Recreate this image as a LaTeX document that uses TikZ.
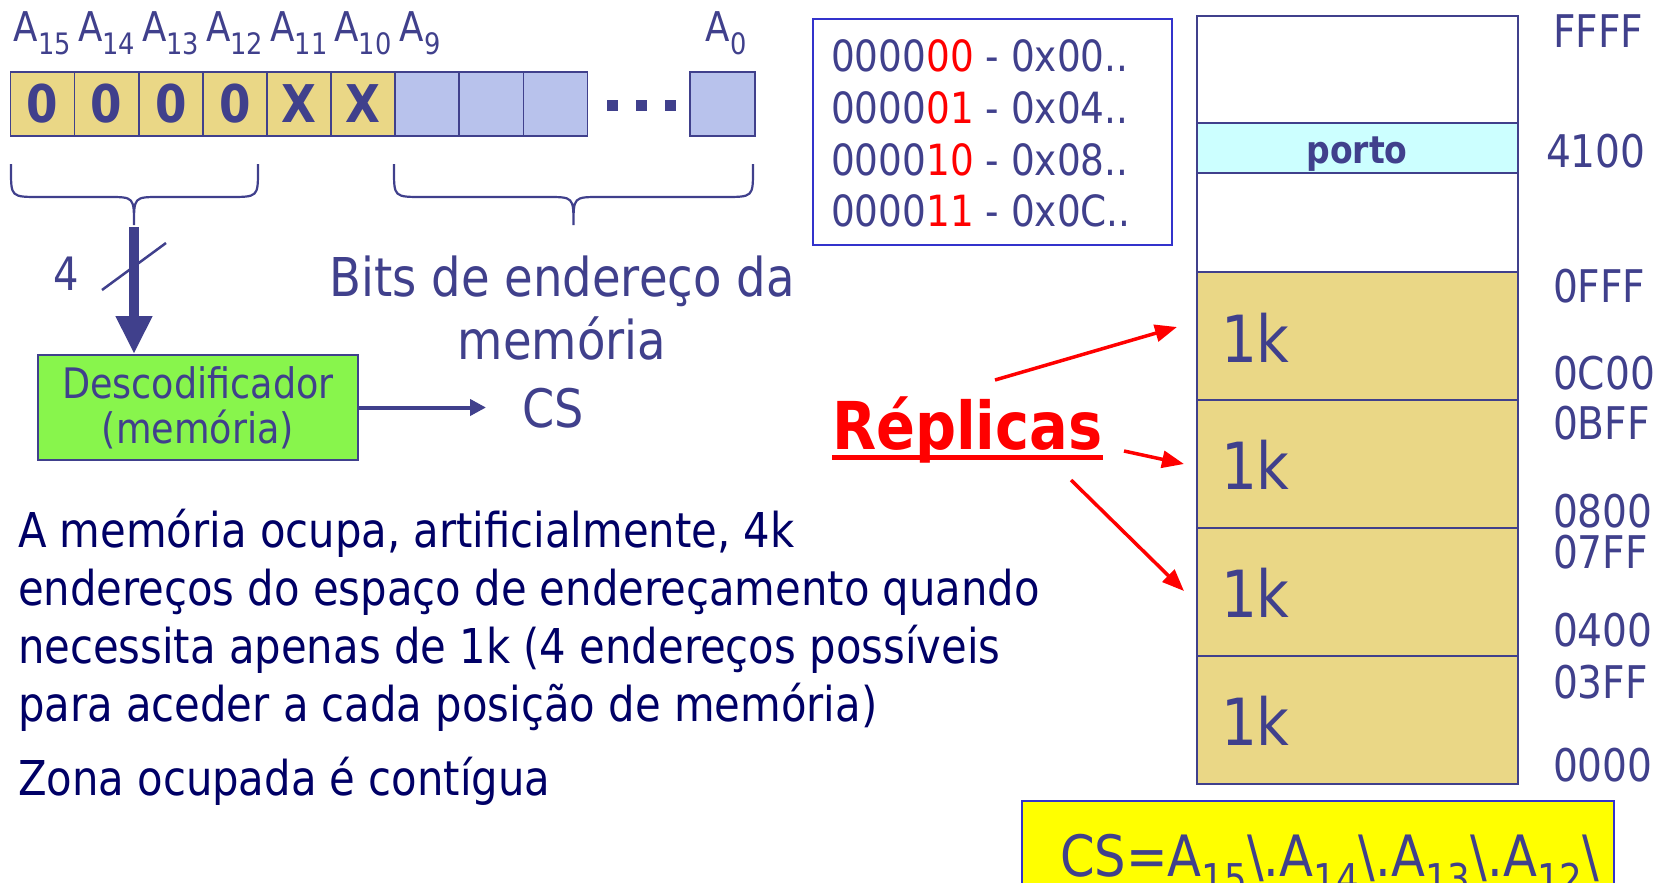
\documentclass[tikz,border=0pt]{standalone}
\usepackage{graphicx}
\usepackage{fontspec}
\setmainfont{DejaVu Sans}[FakeStretch=0.87]
\usetikzlibrary{arrows.meta}
\definecolor{navy}{RGB}{64,64,140}
\definecolor{dnavy}{RGB}{0,0,102}
\definecolor{gold}{RGB}{234,215,134}
\definecolor{lblue}{RGB}{184,194,236}
\definecolor{lcyan}{RGB}{204,255,255}
\definecolor{lime}{RGB}{136,245,76}
\definecolor{boxblue}{RGB}{51,51,204}
\definecolor{rred}{RGB}{255,0,0}
\definecolor{yel}{RGB}{255,255,0}
\newcommand\fsz[1]{\fontsize{#1}{#1}\selectfont}
\newcommand\sbs[1]{\raisebox{-0.3em}{\scalebox{0.72}{#1}}}
\tikzset{
  txt/.style={text=navy, inner sep=0pt, outer sep=0pt},
  bitbox/.style={draw=navy, line width=1.6pt, minimum width=64.1pt, minimum height=64pt, inner sep=0pt, outer sep=0pt, text=navy, font=\fsz{52}\bfseries},
  memcell/.style={draw=navy, line width=1.6pt, minimum width=321pt, anchor=north west, inner sep=0pt, outer sep=0pt},
  alabel/.style={txt, anchor=base, font=\fsz{41}},
  addrlabel/.style={txt, anchor=base west, font=\fsz{45}},
  kl/.style={txt, anchor=base west, font=\fsz{65}},
  para/.style={inner sep=0pt, outer sep=0pt, text=dnavy, anchor=base west, font=\fsz{48}},
  redarrow/.style={draw=rred, line width=3.5pt, -{Triangle[length=22pt,width=17pt]}},
  bracepath/.style={draw=navy, line width=2.2pt},
}
\begin{document}
\begin{tikzpicture}[x=1pt,y=-1pt]
\path[use as bounding box, fill=white] (0,0) rectangle (1655,883);

% bit boxes
\foreach \i/\t in {0/0,1/0,2/0,3/0,4/X,5/X}{
  \node[bitbox, fill=gold] (b\i) at ({42.55+64.1*\i},104) {\t};
}
\foreach \i in {6,7,8}{
  \node[bitbox, fill=lblue] (b\i) at ({42.55+64.1*\i},104) {};
}
\node[bitbox, fill=lblue, minimum width=65pt] (b0last) at (722.5,104) {};
\foreach \x in {612,641,670}{
  \fill[navy] (\x-5.5,100) rectangle (\x+5.5,111);
}

% bit labels
\node[alabel] (l15) at (42.5,42) {A\sbs{15}};
\node[alabel] (l14) at (106.6,42) {A\sbs{14}};
\node[alabel] (l13) at (170.7,42) {A\sbs{13}};
\node[alabel] (l12) at (234.8,42) {A\sbs{12}};
\node[alabel] (l11) at (298.9,42) {A\sbs{11}};
\node[alabel] (l10) at (363,42) {A\sbs{10}};
\node[alabel] (l9) at (420,42) {A\sbs{9}};
\node[alabel] (l0) at (726,42) {A\sbs{0}};

% braces
\draw[bracepath] (11,164) -- (11,170) .. controls (11,197) .. (40,197) -- (108,197)
  .. controls (134,197) .. (134,225) .. controls (134,197) .. (160,197) -- (229,197)
  .. controls (258,197) .. (258,170) -- (258,164);
\draw[bracepath] (394,164) -- (394,170) .. controls (394,197) .. (423,197) -- (547,197)
  .. controls (573.5,197) .. (573.5,225) .. controls (573.5,197) .. (600,197) -- (724,197)
  .. controls (753,197) .. (753,170) -- (753,164);

% decoder
\node[draw=navy, fill=lime, line width=1.6pt, minimum width=320pt, minimum height=105pt,
  align=center, text=navy, inner sep=0pt, font=\fontsize{42}{45}\selectfont] (dec) at (198,407.5)
  {Descodificador\\(memória)};
\coordinate (ltip) at (134,227);
\draw[navy, line width=10pt, -{Triangle[length=38pt,width=34pt]}] (ltip) -- (ltip |- dec.north);
\coordinate (sl1) at (102,290);
\coordinate (sl2) at (166,243);
\draw[navy, line width=2.5pt] (sl1) -- (sl2);
\node[txt, anchor=base, font=\fsz{46}] (four) at (66,290) {4};

\node[txt, anchor=base, font=\fsz{53.5}] (bits1) at (562,296) {Bits de endereço da};
\node[txt, anchor=base, font=\fsz{53.5}] (bits2) at (562,359) {memória};

\node[txt, anchor=base west, font=\fsz{53}] (cs) at (522,427) {CS};
\coordinate (csarr) at (486,407.5);
\draw[navy, line width=4pt, -{Triangle[length=16pt,width=16pt]}] (dec.east) -- (csarr);

% address box
\node[draw=boxblue, line width=1.6pt, minimum width=359pt, minimum height=226pt, anchor=north west, inner sep=0pt] (addr) at (812,18) {};
\node[addrlabel, font=\fsz{43}] (ad1) at (831,72) {0000\textcolor{rred}{00} - 0x00..};
\node[addrlabel, font=\fsz{43}] (ad2) at (831,123.5) {0000\textcolor{rred}{01} - 0x04..};
\node[addrlabel, font=\fsz{43}] (ad3) at (831,175) {0000\textcolor{rred}{10} - 0x08..};
\node[addrlabel, font=\fsz{43}] (ad4) at (831,226.5) {0000\textcolor{rred}{11} - 0x0C..};

% memory column
\node[memcell, fill=white, minimum height=107pt] (mtop) at (1197,16) {};
\node[memcell, fill=lcyan, minimum height=50pt] (mporto) at (1197,123) {};
\node[memcell, fill=white, minimum height=99pt] (mmid) at (1197,173) {};
\node[memcell, fill=gold, minimum height=128pt] (k1) at (1197,272) {};
\node[memcell, fill=gold, minimum height=128pt] (k2) at (1197,400) {};
\node[memcell, fill=gold, minimum height=128pt] (k3) at (1197,528) {};
\node[memcell, fill=gold, minimum height=128pt] (k4) at (1197,656) {};
\node[txt, anchor=base, font=\fsz{38}\bfseries] (porto) at (1357,163) {porto};
\node[kl] (k1l) at (1221,362) {1k};
\node[kl] (k2l) at (1221,489) {1k};
\node[kl] (k3l) at (1221,617) {1k};
\node[kl] (k4l) at (1221,745) {1k};

\node[addrlabel] (aFFFF) at (1553,47.5) {FFFF};
\node[addrlabel] (a4100) at (1546,167) {4100};
\node[addrlabel] (a0FFF) at (1553,302) {0FFF};
\node[addrlabel] (a0C00) at (1553,389) {0C00};
\node[addrlabel] (a0BFF) at (1553,439) {0BFF};
\node[addrlabel] (a0800) at (1553,527) {0800};
\node[addrlabel] (a07FF) at (1553,568) {07FF};
\node[addrlabel] (a0400) at (1553,646) {0400};
\node[addrlabel] (a03FF) at (1553,698) {03FF};
\node[addrlabel] (a0000) at (1553,781) {0000};

% Replicas
\node[inner sep=0pt, outer sep=0pt, text=rred, anchor=base west, font=\fsz{66}\bfseries] (rep) at (832,449) {Réplicas};
\draw[rred, line width=5pt] ([yshift=-8pt]rep.base west) -- ([yshift=-8pt]rep.base east);
\coordinate (r1s) at (995,380);
\coordinate (r1e) at (1177,327);
\coordinate (r2s) at (1124,451);
\coordinate (r2e) at (1184,464);
\coordinate (r3s) at (1071,480);
\coordinate (r3e) at (1184,591);
\draw[redarrow] (r1s) -- (r1e);
\draw[redarrow] (r2s) -- (r2e);
\draw[redarrow] (r3s) -- (r3e);

% paragraph
\node[para] (p1) at (18,547) {A memória ocupa, artificialmente, 4k};
\node[para] (p2) at (18,605) {endereços do espaço de endereçamento quando};
\node[para] (p3) at (18,663) {necessita apenas de 1k (4 endereços possíveis};
\node[para] (p4) at (18,721) {para aceder a cada posição de memória)};
\node[para] (p5) at (18,795) {Zona ocupada é contígua};

% CS box
\node[draw=boxblue, fill=yel, line width=1.6pt, anchor=north west, minimum width=592pt, minimum height=110pt, inner sep=0pt] (csbox) at (1021,800) {};
\node[txt, anchor=base west, font=\fsz{57}] (cseq) at (1060,876) {CS=A\sbs{15}\textbackslash.A\sbs{14}\textbackslash.A\sbs{13}\textbackslash.A\sbs{12}\textbackslash};
\end{tikzpicture}
\end{document}
